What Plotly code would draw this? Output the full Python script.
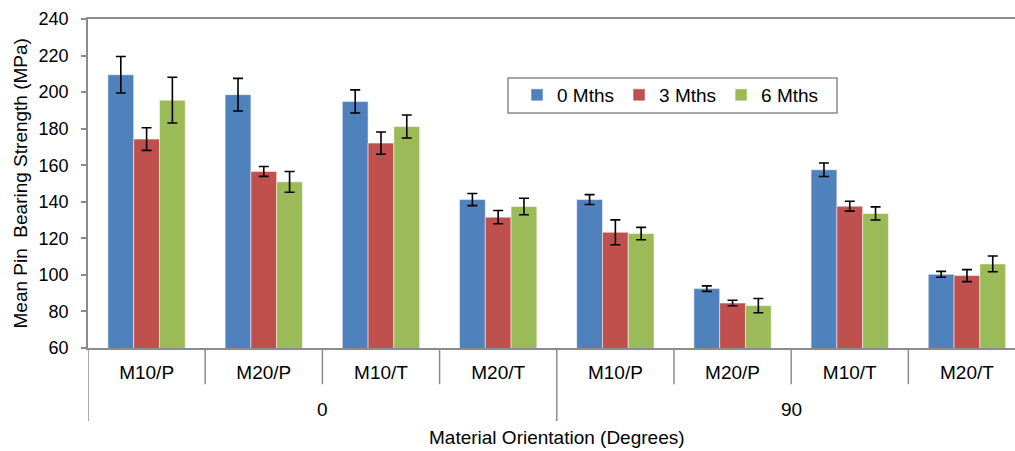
import plotly.graph_objects as go

# ---- data ----
inner_labels = ["M10/P", "M20/P", "M10/T", "M20/T", "M10/P", "M20/P", "M10/T", "M20/T"]
outer_labels = ["0", "90"]
series_names = ["0 Mths", "3 Mths", "6 Mths"]

mths0 = [209.5, 198.6, 194.9, 141.2, 141.2, 92.5, 157.5, 100.3]
mths0_err = [10.0, 8.9, 6.3, 3.3, 2.7, 1.5, 3.7, 1.6]
mths3 = [174.3, 156.6, 172.1, 131.6, 123.3, 84.6, 137.6, 99.6]
mths3_err = [6.2, 2.7, 6.1, 3.6, 6.8, 1.5, 2.7, 3.3]
mths6 = [195.6, 150.9, 181.2, 137.4, 122.6, 83.2, 133.6, 106.0]
mths6_err = [12.5, 5.7, 6.3, 4.5, 3.4, 3.9, 3.6, 4.3]

colors = ["#4F81BD", "#C0504D", "#9BBB59"]
FONT = "Liberation Sans, Arial, sans-serif"
AXIS_GREY = "#8C8C8C"

xpos = list(range(len(inner_labels)))

fig = go.Figure()
for name, vals, errs, col in zip(series_names, [mths0, mths3, mths6],
                                 [mths0_err, mths3_err, mths6_err], colors):
    fig.add_trace(go.Bar(
        x=xpos, y=vals, name=name,
        marker=dict(color=col, line=dict(color="rgba(255,255,255,0.5)", width=1)),
        error_y=dict(type="data", array=errs, visible=True, color="#000000",
                     thickness=1.6, width=5),
    ))

PLOT_W, PLOT_H = 927.0, 329.0

shapes = []
# separators between inner categories (short) and outer groups (long)
for b in range(len(inner_labels)):
    xb = b - 0.5
    long_sep = (b % 4 == 0)
    shapes.append(dict(type="line", xref="x", yref="paper", x0=xb, x1=xb,
                       y0=0, y1=-0.222 if long_sep else -0.11,
                       line=dict(color=AXIS_GREY, width=1.5)))
# legend frame
shapes.append(dict(type="rect", xref="paper", yref="paper",
                   x0=(508 - 88) / PLOT_W, x1=(837 - 88) / PLOT_W,
                   y0=(348 - 113) / PLOT_H, y1=(348 - 78) / PLOT_H,
                   line=dict(color=AXIS_GREY, width=1.5), fillcolor="white", layer="above"))

annotations = []
for i, lab in enumerate(outer_labels):
    annotations.append(dict(text=lab, x=1.5 + 4 * i, xref="x", y=-0.188, yref="paper",
                            showarrow=False, xanchor="center", yanchor="middle",
                            font=dict(family=FONT, size=19, color="#000000")))
annotations.append(dict(text="Material Orientation (Degrees)", x=3.5, xref="x",
                        y=-0.272, yref="paper", showarrow=False, xanchor="center",
                        yanchor="middle", font=dict(family=FONT, size=19, color="#000000")))
annotations.append(dict(text="Mean Pin  Bearing Strength (MPa)", x=-0.0723, xref="paper",
                        y=0.5, yref="paper", showarrow=False, textangle=-90,
                        xanchor="center", yanchor="middle",
                        font=dict(family=FONT, size=19, color="#000000")))

fig.update_layout(
    width=1015, height=451,
    margin=dict(l=88, r=0, t=19, b=103),
    paper_bgcolor="white", plot_bgcolor="white",
    barmode="group", bargap=0.34, bargroupgap=0,
    font=dict(family=FONT, size=19, color="#000000"),
    shapes=shapes, annotations=annotations,
    legend=dict(orientation="h", x=(517 - 88) / PLOT_W, xanchor="left",
                y=(348 - 76) / PLOT_H, yanchor="top",
                borderwidth=0, bgcolor="rgba(0,0,0,0)",
                font=dict(family=FONT, size=19, color="#000000")),
    showlegend=True,
)
fig.update_xaxes(
    range=[-0.5, 7.41], tickmode="array", tickvals=xpos, ticktext=inner_labels,
    showline=True, linecolor=AXIS_GREY, linewidth=1.5, mirror=True,
    ticks="", showgrid=False, zeroline=False, ticklabelstandoff=6,
    tickfont=dict(family=FONT, size=19, color="#000000"),
)
fig.update_yaxes(
    range=[60, 240], dtick=20, showline=True, linecolor=AXIS_GREY, linewidth=1.5,
    ticks="outside", ticklen=5, tickcolor=AXIS_GREY, tickwidth=1.5,
    showgrid=False, zeroline=False, ticklabelstandoff=9,
    tickfont=dict(family=FONT, size=18, color="#000000"),
)

fig.write_html("out.html")
